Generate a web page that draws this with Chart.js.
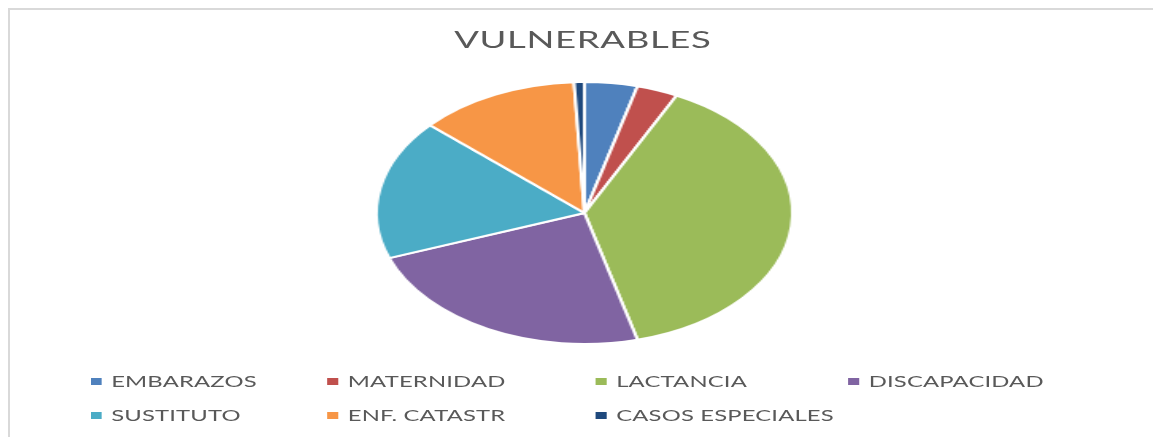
<!DOCTYPE html>
<html>
<head>
<meta charset="utf-8">
<script src="https://cdn.jsdelivr.net/npm/chart.js@4/dist/chart.umd.min.js"></script>
<style>
  html, body { margin: 0; padding: 0; background: #fff; overflow: hidden; }
  #frame {
    position: absolute; left: 8px; top: 8px; right: 0; bottom: 0;
    border-left: 2px solid #d9d9d9; border-top: 2px solid #d9d9d9;
  }
  /* the reference picture is stretched sideways, so draw narrow and stretch */
  #stage {
    position: absolute; left: 0; top: 0; width: 726px; height: 437px;
    transform: scaleX(1.5882); transform-origin: 0 0;
    font-family: Lato, "Liberation Sans", sans-serif; color: #595959;
  }
  #title {
    position: absolute; left: 0; width: 734px; top: 25px;
    text-align: center; font-size: 23px; letter-spacing: 0.4px;
  }
  .leg { position: absolute; font-size: 15px; line-height: 18px; white-space: nowrap; letter-spacing: 0.1px; }
  .leg i { display: inline-block; width: 7px; height: 7px; margin-right: 6px; vertical-align: 2px; }
  canvas { position: absolute; left: 0; top: 0; }
</style>
</head>
<body>
<div id="frame"></div>
<div id="stage">
  <canvas id="chart" width="726" height="437"></canvas>
  <div id="title">VULNERABLES</div>
  <div id="legend"></div>
</div>
<script>
const categories = ['EMBARAZOS', 'MATERNIDAD', 'LACTANCIA', 'DISCAPACIDAD', 'SUSTITUTO', 'ENF. CATASTR', 'CASOS ESPECIALES'];
const shares = [4.1, 3.2, 38.6, 23.5, 17.3, 12.5, 0.8];
const sliceColors = ['#4f81bd', '#c0504d', '#9bbb59', '#8064a2', '#4bacc6', '#f79646', '#1f497d'];

// legend grid (unstretched px)
const legendCols = [57, 206, 375, 534];
const legendRows = [372, 406];

new Chart(document.getElementById('chart'), {
  type: 'pie',
  data: {
    labels: categories,
    datasets: [{
      data: shares,
      backgroundColor: sliceColors,
      borderColor: '#ffffff',
      borderWidth: 2,
    }],
  },
  options: {
    responsive: false,
    animation: false,
    layout: { padding: { top: 81, bottom: 92, left: 10, right: 0 } },
    plugins: { legend: { display: false }, tooltip: { enabled: false } },
  },
});

const legend = document.getElementById('legend');
categories.forEach((name, i) => {
  const el = document.createElement('div');
  el.className = 'leg';
  el.style.left = legendCols[i % 4] + 'px';
  el.style.top = legendRows[Math.floor(i / 4)] + 'px';
  el.innerHTML = `<i style="background:${sliceColors[i]}"></i>${name}`;
  legend.appendChild(el);
});
</script>
</body>
</html>
